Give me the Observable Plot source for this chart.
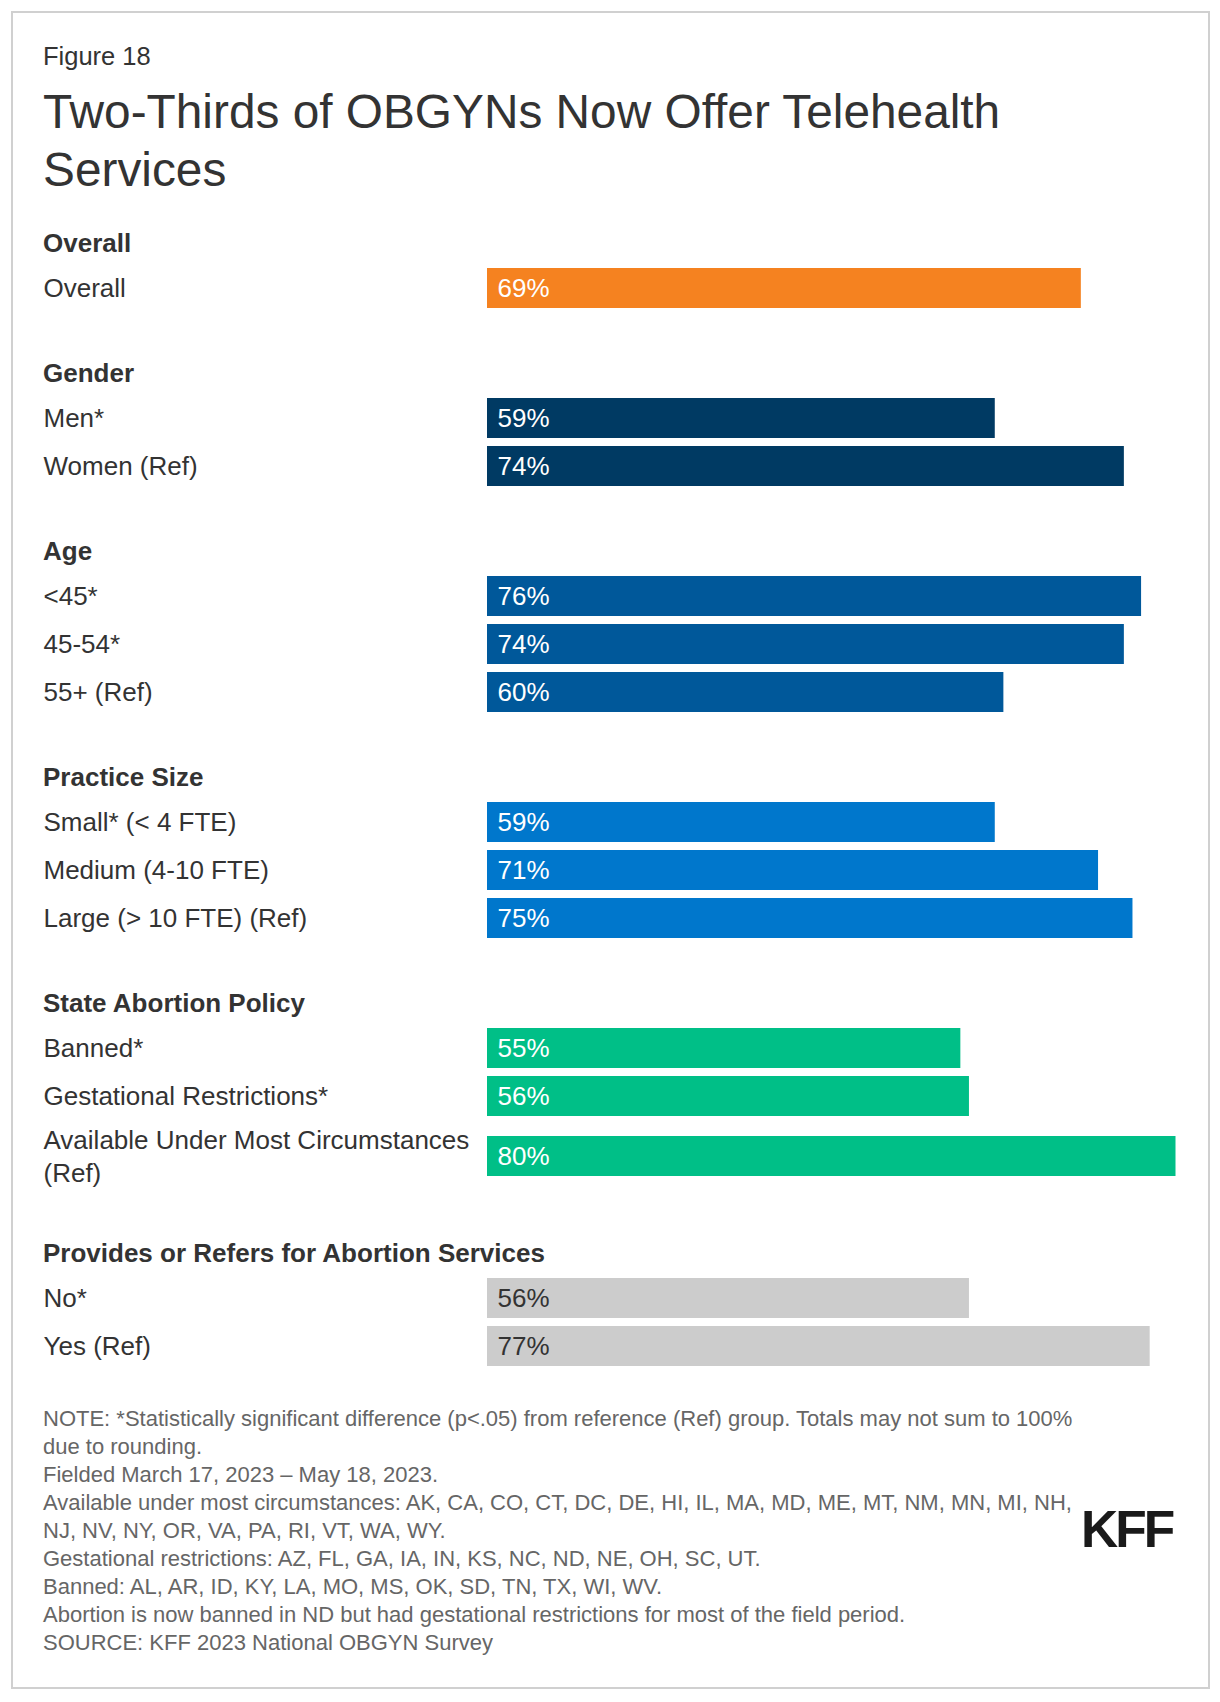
<!DOCTYPE html>
<html>
<head>
<meta charset="utf-8">
<script src="https://cdn.jsdelivr.net/npm/d3@7"></script>
<script src="https://cdn.jsdelivr.net/npm/@observablehq/plot@0.6"></script>
<style>
  html, body { margin: 0; padding: 0; background: #fff; }
  body { width: 1220px; height: 1702px; position: relative; font-family: "Liberation Sans", Arial, Helvetica, sans-serif; color: #333; }
  .frame { position: absolute; left: 11px; top: 11px; width: 1195px; height: 1674px; border: 2px solid #d0d0d0; }
  .inner { padding-left: 30px; }
  .fig { margin-top: 28px; font-size: 25.5px; line-height: 30px; color: #333; }
  .title { margin-top: 12px; font-size: 47.8px; line-height: 58px; color: #333; font-weight: normal; width: 1080px; }
  .group-h { font-size: 26px; line-height: 30px; font-weight: bold; color: #333; margin-bottom: 6px; }
  .group { margin-top: 46px; }
  .group.first { margin-top: 29px; }
  .group svg { display: block; overflow: visible; }
  .notes { margin-top: 35px; font-size: 22px; line-height: 28px; color: #666; width: 1050px; }
  .logo { position: absolute; left: 1081px; top: 1504px; font-size: 51.5px; line-height: 51px; font-weight: bold; color: #1a1a1a; letter-spacing: -3px; }
</style>
</head>
<body>
<div class="frame">
  <div class="inner" id="inner">
    <div class="fig">Figure 18</div>
    <div class="title">Two-Thirds of OBGYNs Now Offer Telehealth Services</div>
    <div id="chart"></div>
    <div class="notes">
      <div>NOTE: *Statistically significant difference (p&lt;.05) from reference (Ref) group. Totals may not sum to 100% due to rounding.</div>
      <div>Fielded March 17, 2023 – May 18, 2023.</div>
      <div>Available under most circumstances: AK, CA, CO, CT, DC, DE, HI, IL, MA, MD, ME, MT, NM, MN, MI, NH, NJ, NV, NY, OR, VA, PA, RI, VT, WA, WY.</div>
      <div>Gestational restrictions: AZ, FL, GA, IA, IN, KS, NC, ND, NE, OH, SC, UT.</div>
      <div>Banned: AL, AR, ID, KY, LA, MO, MS, OK, SD, TN, TX, WI, WV.</div>
      <div>Abortion is now banned in ND but had gestational restrictions for most of the field period.</div>
      <div>SOURCE: KFF 2023 National OBGYN Survey</div>
    </div>
  </div>
</div>
<div class="logo">KFF</div>
<script>
// ---- Data ----
const groupNames = ["Overall", "Gender", "Age", "Practice Size", "State Abortion Policy", "Provides or Refers for Abortion Services"];

const overallLabels = ["Overall"];
const overallValues = [69];

const genderLabels = ["Men*", "Women (Ref)"];
const genderValues = [59, 74];

const ageLabels = ["<45*", "45-54*", "55+ (Ref)"];
const ageValues = [76, 74, 60];

const practiceLabels = ["Small* (< 4 FTE)", "Medium (4-10 FTE)", "Large (> 10 FTE) (Ref)"];
const practiceValues = [59, 71, 75];

const policyLabels = ["Banned*", "Gestational Restrictions*", "Available Under Most Circumstances (Ref)"];
const policyValues = [55, 56, 80];

const abortionLabels = ["No*", "Yes (Ref)"];
const abortionValues = [56, 77];

// ---- Styling ----
const palette = ["#F58220", "#003A63", "#00589A", "#0077CC", "#00BF87", "#CCCCCC"];
const valueTextColors = ["#fff", "#fff", "#fff", "#fff", "#fff", "#333"];

const allValues = [overallValues, genderValues, ageValues, practiceValues, policyValues, abortionValues].flat();
const xMax = d3.max(allValues);

const FONT = '"Liberation Sans", Arial, Helvetica, sans-serif';
const LABEL_SIZE = 26;
const BAR_H = 40;

function rowsPlot(labels, values, color, textColor, rowHeight) {
  const data = labels.map((label, i) => ({label, value: values[i]}));
  const inset = (rowHeight - BAR_H) / 2;
  return Plot.plot({
    width: 1150,
    height: rowHeight * labels.length,
    marginTop: 0, marginBottom: 0, marginLeft: 0, marginRight: 0,
    style: {fontFamily: FONT, fontSize: LABEL_SIZE + "px", color: "#333", background: "transparent"},
    x: {domain: [0, xMax], range: [444, 1132.5], axis: null},
    y: {domain: labels, padding: 0, axis: null},
    marks: [
      Plot.barX(data, {x: "value", y: "label", fill: color, insetTop: inset, insetBottom: inset}),
      Plot.text(data, {y: "label", frameAnchor: "left", text: "label", textAnchor: "start", dy: -2,
        fontSize: LABEL_SIZE, fill: "#333", lineWidth: 18, lineHeight: 1.28}),
      Plot.text(data, {x: 0, y: "label", text: d => d.value + "%", textAnchor: "start", dx: 10,
        fontSize: LABEL_SIZE, fill: textColor})
    ]
  });
}

const chart = document.getElementById("chart");
const groupsData = [
  [overallLabels, overallValues],
  [genderLabels, genderValues],
  [ageLabels, ageValues],
  [practiceLabels, practiceValues],
  [policyLabels, policyValues],
  [abortionLabels, abortionValues]
];

groupsData.forEach(([labels, values], gi) => {
  const g = document.createElement("div");
  g.className = "group" + (gi === 0 ? " first" : "");
  const h = document.createElement("div");
  h.className = "group-h";
  h.textContent = groupNames[gi];
  g.appendChild(h);
  // rows whose label wraps onto two lines get a taller row
  let start = 0;
  const isLong = l => l.length > 30;
  while (start < labels.length) {
    const long = isLong(labels[start]);
    let end = start + 1;
    while (end < labels.length && isLong(labels[end]) === long) end++;
    g.appendChild(rowsPlot(labels.slice(start, end), values.slice(start, end), palette[gi], valueTextColors[gi], long ? 72 : 48));
    start = end;
  }
  chart.appendChild(g);
});
</script>
</body>
</html>
